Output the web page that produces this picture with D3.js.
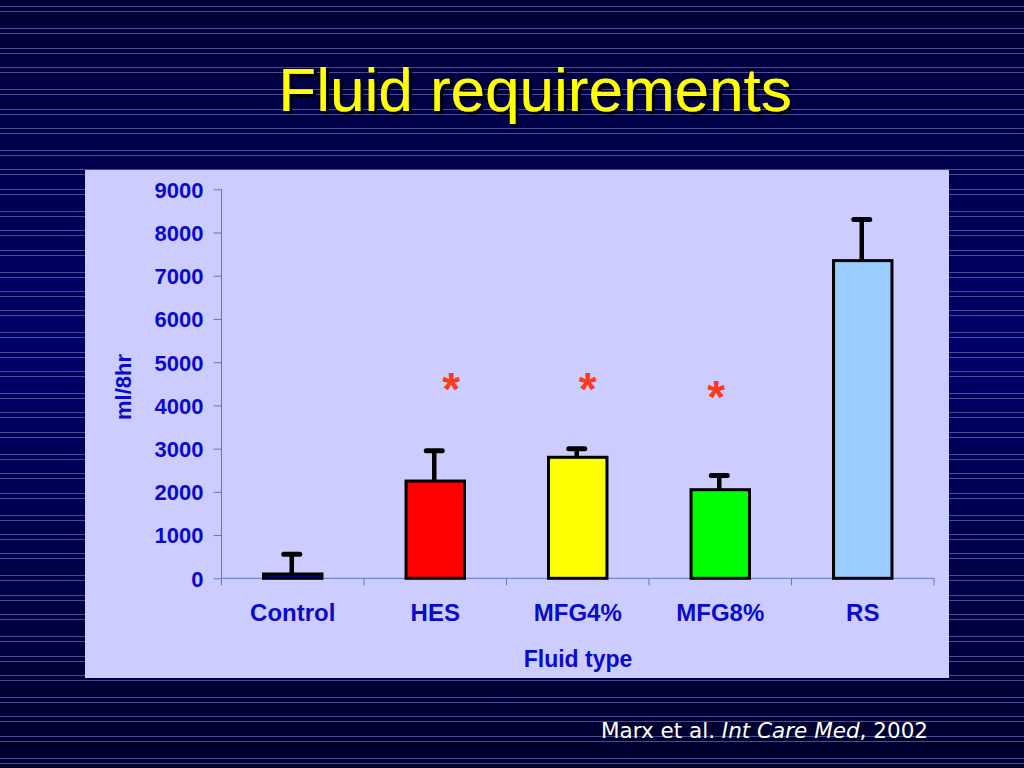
<!DOCTYPE html>
<html lang="en">
<head>
  <meta charset="UTF-8">
  <script src="https://d3js.org/d3.v7.min.js"></script>
  <title>Fluid requirements</title>
  <style>
    html, body { margin: 0; padding: 0; background: #000040; }
    svg { display: block; }
  </style>
</head>
<body>
  <script>
    // chart data
    const categories = ["Control", "HES", "MFG4%", "MFG8%", "RS"];
    const means = [100, 2250, 2800, 2050, 7350];
    const errors = [455, 700, 200, 330, 950];
    const barColors = ["#0000a0", "#ff0000", "#ffff00", "#00ff00", "#99ccff"];
    const starLevels = [null, 4610, 4610, 4430, null];
    const yTicks = [0, 1000, 2000, 3000, 4000, 5000, 6000, 7000, 8000, 9000];

    const width = 1024, height = 768;
    const panel = { left: 85, top: 170, right: 949, bottom: 678 };
    const plot = { left: 221.5, right: 934, top: 189.3, bottom: 578.3 };
    const starShift = [0, 16, 10, -4, 0];

    const svg = d3.select("body").append("svg")
        .attr("width", width)
        .attr("height", height);

    // background gradient, stripes and title shadow
    const defs = svg.append("defs");
    const grad = defs.append("linearGradient")
        .attr("id", "bg").attr("x1", 0).attr("y1", 0).attr("x2", 0).attr("y2", 1);
    grad.append("stop").attr("offset", "0").attr("stop-color", "#000036");
    grad.append("stop").attr("offset", "0.45").attr("stop-color", "#00006a");
    grad.append("stop").attr("offset", "1").attr("stop-color", "#00002c");

    defs.append("filter")
        .attr("id", "shadow")
        .attr("x", "-5%").attr("y", "-20%").attr("width", "110%").attr("height", "140%")
      .append("feDropShadow")
        .attr("dx", 3).attr("dy", 3)
        .attr("stdDeviation", 0.6)
        .attr("flood-color", "#000000")
        .attr("flood-opacity", 1);

    svg.append("rect")
        .attr("width", width).attr("height", height)
        .attr("fill", "url(#bg)");

    const stripeYs = [];
    d3.range(-1, 13).forEach(k => {
      [0, 19.4, 38.8].forEach(o => {
        const base = 28.3 + k * 60.8 + o;
        stripeYs.push(base, base + 5);
      });
    });
    svg.append("g")
      .selectAll("line")
      .data(stripeYs.filter(v => v > 0 && v < height))
      .join("line")
        .attr("x1", 0).attr("x2", width)
        .attr("y1", d => Math.round(d) + 0.5)
        .attr("y2", d => Math.round(d) + 0.5)
        .attr("stroke", "#4c4c94")
        .attr("stroke-width", 1);

    // title
    svg.append("text")
        .attr("x", 535).attr("y", 111)
        .attr("text-anchor", "middle")
        .attr("font-family", "Liberation Sans, Arial, sans-serif")
        .attr("font-size", 62)
        .attr("fill", "#ffff00")
        .attr("filter", "url(#shadow)")
        .text("Fluid requirements");

    // chart panel
    svg.append("rect")
        .attr("x", panel.left).attr("y", panel.top)
        .attr("width", panel.right - panel.left)
        .attr("height", panel.bottom - panel.top)
        .attr("fill", "#ccccff");

    const xScale = d3.scaleBand()
        .domain(categories)
        .range([plot.left, plot.right])
        .paddingInner(0.59)
        .paddingOuter(0.295);

    const yScale = d3.scaleLinear()
        .domain([0, 9000])
        .range([plot.bottom, plot.top]);

    const axisColor = "#5a78cc";
    const textColor = "#0a0acc";
    const font = "Liberation Sans, Arial, sans-serif";

    // y axis
    const yAxis = svg.append("g")
        .attr("transform", `translate(${plot.left},0)`)
        .call(d3.axisLeft(yScale)
          .tickValues(yTicks)
          .tickFormat(d3.format("d"))
          .tickSize(8).tickPadding(10).tickSizeOuter(0));
    yAxis.select(".domain").attr("stroke", axisColor)
        .attr("d", `M0,${plot.top}V${plot.bottom + 7}`);
    yAxis.selectAll(".tick line").attr("stroke", axisColor);
    yAxis.selectAll(".tick text")
        .attr("fill", textColor)
        .attr("font-family", font)
        .attr("font-weight", "bold")
        .attr("font-size", 22)
        .attr("dy", "0.36em");

    // x axis line and boundary ticks
    const xAxis = svg.append("g");
    xAxis.append("line")
        .attr("x1", plot.left).attr("x2", plot.right)
        .attr("y1", plot.bottom).attr("y2", plot.bottom)
        .attr("stroke", axisColor);
    xAxis.selectAll(".bound")
      .data(d3.range(1, categories.length + 1))
      .join("line")
        .attr("class", "bound")
        .attr("x1", i => plot.left + i * xScale.step())
        .attr("x2", i => plot.left + i * xScale.step())
        .attr("y1", plot.bottom).attr("y2", plot.bottom + 7)
        .attr("stroke", axisColor);

    xAxis.selectAll(".cat")
      .data(categories)
      .join("text")
        .attr("class", "cat")
        .attr("x", d => xScale(d) + xScale.bandwidth() / 2)
        .attr("y", 621)
        .attr("text-anchor", "middle")
        .attr("fill", textColor)
        .attr("font-family", font)
        .attr("font-weight", "bold")
        .attr("font-size", 24)
        .text(d => d);

    // axis titles
    svg.append("text")
        .attr("x", 578).attr("y", 667)
        .attr("text-anchor", "middle")
        .attr("fill", textColor)
        .attr("font-family", font)
        .attr("font-weight", "bold")
        .attr("font-size", 23)
        .text("Fluid type");

    svg.append("text")
        .attr("transform", "translate(131,387) rotate(-90)")
        .attr("text-anchor", "middle")
        .attr("fill", textColor)
        .attr("font-family", font)
        .attr("font-weight", "bold")
        .attr("font-size", 22)
        .text("ml/8hr");

    // bars
    svg.append("g")
      .selectAll("rect")
      .data(categories)
      .join("rect")
        .attr("x", d => xScale(d))
        .attr("y", (d, i) => yScale(means[i]))
        .attr("width", xScale.bandwidth())
        .attr("height", (d, i) => yScale(0) - yScale(means[i]))
        .attr("fill", (d, i) => barColors[i])
        .attr("stroke", "#000")
        .attr("stroke-width", 3);

    // error bars (upper only)
    const err = svg.append("g");
    err.selectAll(".stem")
      .data(categories)
      .join("line")
        .attr("class", "stem")
        .attr("x1", d => xScale(d) + xScale.bandwidth() / 2 - 1)
        .attr("x2", d => xScale(d) + xScale.bandwidth() / 2 - 1)
        .attr("y1", (d, i) => yScale(means[i]))
        .attr("y2", (d, i) => yScale(means[i] + errors[i]))
        .attr("stroke", "#000")
        .attr("stroke-width", 4.5);
    err.selectAll(".cap")
      .data(categories)
      .join("line")
        .attr("class", "cap")
        .attr("x1", d => xScale(d) + xScale.bandwidth() / 2 - 9)
        .attr("x2", d => xScale(d) + xScale.bandwidth() / 2 + 7)
        .attr("y1", (d, i) => yScale(means[i] + errors[i]))
        .attr("y2", (d, i) => yScale(means[i] + errors[i]))
        .attr("stroke", "#000")
        .attr("stroke-width", 5)
        .attr("stroke-linecap", "round");

    // significance stars
    svg.append("g")
      .selectAll("text")
      .data(categories.filter((d, i) => starLevels[i] !== null))
      .join("text")
        .attr("x", d => xScale(d) + xScale.bandwidth() / 2 + starShift[categories.indexOf(d)])
        .attr("y", d => yScale(starLevels[categories.indexOf(d)]) + 26)
        .attr("text-anchor", "middle")
        .attr("fill", "#ff3a1a")
        .attr("font-family", font)
        .attr("font-weight", "bold")
        .attr("font-size", 46)
        .text("*");

    // citation
    const cite = svg.append("text")
        .attr("x", 601).attr("y", 738)
        .attr("fill", "#ffffff")
        .attr("font-family", "Comic Sans MS, DejaVu Sans, sans-serif")
        .attr("font-size", 21.5);
    cite.append("tspan").text("Marx et al. ");
    cite.append("tspan").attr("font-style", "italic").text("Int Care Med");
    cite.append("tspan").text(", 2002");
  </script>
</body>
</html>
